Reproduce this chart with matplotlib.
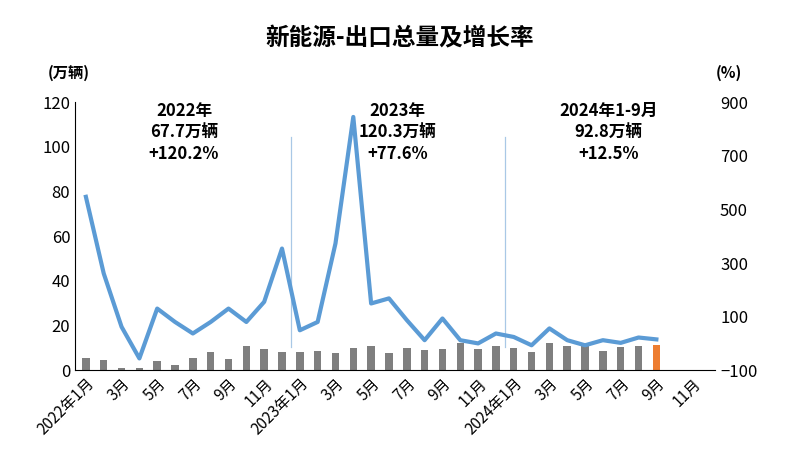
import matplotlib
matplotlib.use("Agg")
import matplotlib.pyplot as plt
import numpy as np

plt.rcParams['font.family'] = ['Noto Sans CJK SC', 'DejaVu Sans']

months = []
for y in (2022, 2023, 2024):
    for m in range(1, 13):
        months.append(f"{y}年{m}月" if m == 1 else f"{m}月")
volume = [5.4, 4.6, 1.2, 0.9, 4.2, 2.5, 5.4, 8.2, 4.9, 10.7, 9.4, 8.2,
          8.2, 8.7, 7.8, 9.9, 10.7, 7.8, 9.9, 9.0, 9.4, 12.4, 9.4, 11.0,
          9.9, 8.2, 12.4, 11.0, 10.7, 8.7, 10.3, 10.7, 11.2]
growth = [547, 261, 62, -56, 130, 80, 37, 80, 130, 80, 155, 354,
          49, 80, 373, 845, 149, 168, 87, 12, 93, 12, 0, 37,
          24, -7, 56, 12, -7, 12, 2, 22, 15]
annotations = ["2022年\n67.7万辆\n+120.2%", "2023年\n120.3万辆\n+77.6%", "2024年1-9月\n92.8万辆\n+12.5%"]

fig = plt.figure(figsize=(8, 4.71), dpi=100)
ax = fig.add_axes([0.094, 0.214, 0.80, 0.569])
x = np.arange(len(months))
colors = ['#7f7f7f'] * (len(volume) - 1) + ['#ed7d31']
ax.bar(x[:len(volume)], volume, width=0.42, color=colors, zorder=2)
ax.set_ylim(0, 120)
ax.set_yticks(range(0, 121, 20))
ax.set_xlim(-0.6, 35.3)
ax.set_xticks(x[::2])
ax.set_xticklabels(months[::2], rotation=45, ha='right', rotation_mode='anchor', fontsize=11)
ax.tick_params(axis='y', labelsize=12, length=0)
ax.tick_params(axis='x', length=0)
for s in ('top', 'right'):
    ax.spines[s].set_visible(False)
ax.spines['left'].set_color('black')
ax.spines['bottom'].set_color('black')

ax2 = ax.twinx()
ax2.plot(x[:len(growth)], growth, color='#5b9bd5', lw=3, zorder=3)
ax2.set_ylim(-100, 900)
ax2.set_yticks(range(-100, 901, 200))
ax2.tick_params(axis='y', labelsize=12, length=0)
for s in ('top', 'right', 'left', 'bottom'):
    ax2.spines[s].set_visible(False)

for xv in (11.5, 23.5):
    ax2.plot([xv, xv], [-15, 770], color='#a9c8e6', lw=0.9)

for xv, t in zip((5.5, 17.5, 29.3), annotations):
    ax2.text(xv, 900, t, ha='center', va='top', fontsize=12, fontweight='bold', linespacing=1.25)

fig.text(0.5, 0.918, "新能源-出口总量及增长率", ha='center', va='center', fontsize=17, fontweight='bold')
fig.text(0.06, 0.845, "(万辆)", ha='left', va='center', fontsize=11, fontweight='bold')
fig.text(0.895, 0.845, "(%)", ha='left', va='center', fontsize=11, fontweight='bold')

fig.savefig("out.png", dpi=100)
